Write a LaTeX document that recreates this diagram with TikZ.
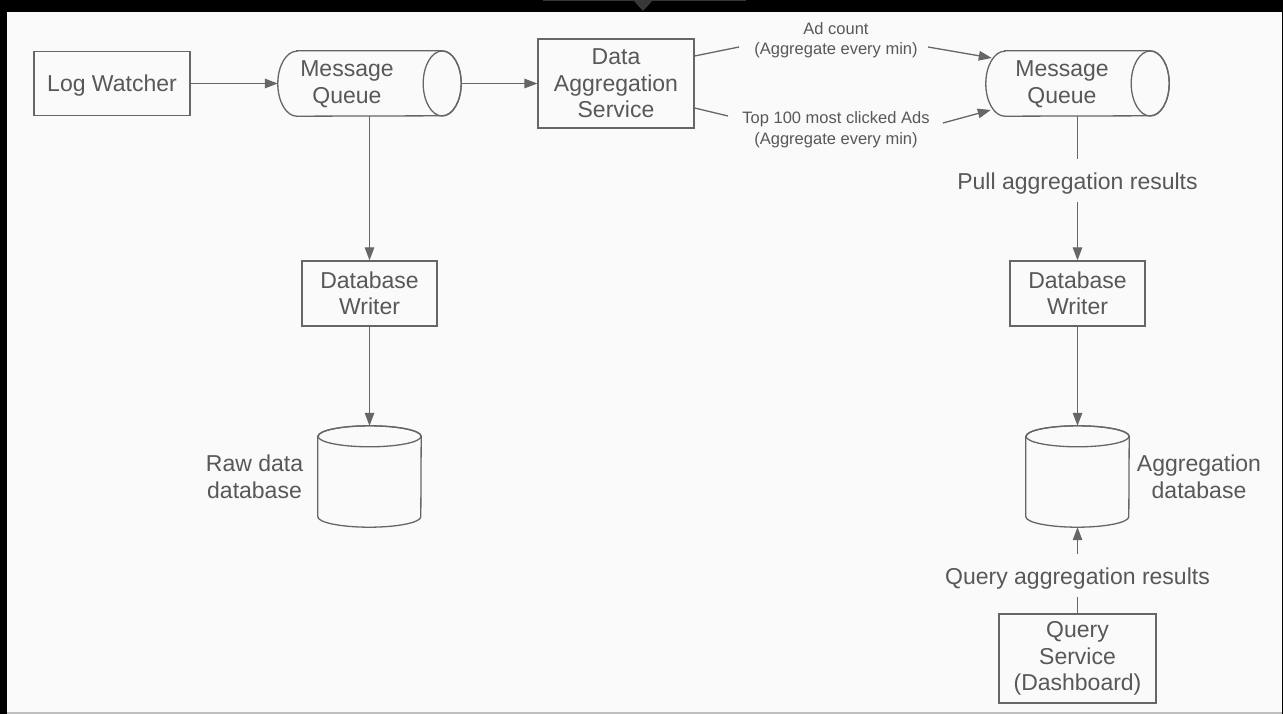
\documentclass[tikz,border=0pt]{standalone}
\usepackage{fontspec}
\setmainfont{Liberation Sans}
\usetikzlibrary{arrows.meta, positioning}
\definecolor{edge}{RGB}{102,102,102}
\definecolor{ink}{RGB}{88,88,88}
\definecolor{paper}{RGB}{250,250,250}
\newcommand{\bigtext}{\fontsize{23}{26.5}\selectfont}
\newcommand{\smalltext}{\fontsize{16.5}{20.5}\selectfont}
\tikzset{
  % Set arrowhead
  >={Triangle[length=13pt, width=9.5pt]},
  % Connectors
  wire/.style={draw=edge, line width=1.3pt},
  wire->/.style={wire, ->},
  % Service box
  box/.style={wire, fill=paper, inner sep=0pt, align=center, text=ink,
    font=\bigtext},
  % Room for a cylinder, which is drawn by hand
  slot/.style={inner sep=0pt},
  % Text
  lbl/.style={text=ink, font=\bigtext, align=center, inner sep=0pt},
  small/.style={lbl, font=\smalltext},
  % Label that breaks a connector
  cut/.style={lbl, text depth=0pt, inner sep=13pt},
}
% lying cylinder round a slot node
\newcommand{\queuecyl}[1]{%
  \path[wire, fill=paper] ([xshift=19pt]#1.north west)
    -- ([xshift=-19pt]#1.north east)
    arc[start angle=90, end angle=-90, x radius=19pt, y radius=32.5pt]
    -- ([xshift=19pt]#1.south west)
    arc[start angle=270, end angle=90, x radius=19pt, y radius=32.5pt]
    -- cycle;
  \draw[wire] ([xshift=-19pt]#1.east) ellipse [x radius=19pt, y radius=32.5pt];}
% standing cylinder round a slot node
\newcommand{\dbcyl}[1]{%
  \path[wire, fill=paper] ([yshift=-10.5pt]#1.north west)
    -- ([yshift=10.5pt]#1.south west)
    arc[start angle=180, end angle=360, x radius=51.5pt, y radius=10.5pt]
    -- ([yshift=-10.5pt]#1.north east)
    arc[start angle=0, end angle=180, x radius=51.5pt, y radius=10.5pt]
    -- cycle;
  \draw[wire] ([yshift=-10.5pt]#1.north) ellipse [x radius=51.5pt, y radius=10.5pt];}

\begin{document}
\begin{tikzpicture}[x=1pt, y=-1pt]
  \useasboundingbox (0,0) rectangle (1283,714);
  % screen frame
  \fill[black] (0,0) rectangle (1283,714);
  \fill[paper] (6.5,12) rectangle (1281.7,712);
  \fill[black!25] (6.5,712) rectangle (1281.7,714);
  \fill[black!78] (543,0) rectangle (746,1.5);
  \fill[black!78] (633,0) -- (653,0) -- (643,11) -- cycle;

  \node[box, text depth=0pt, minimum width=156pt, minimum height=64pt] (lw) at (112,83.5) {Log Watcher};
  \node[slot, minimum width=183pt, minimum height=65pt] (mq1) at (369.5,83.5) {};
  \node[box, minimum width=156pt, minimum height=89pt] (das) at (616,83.5) {Data\\Aggregation\\Service};
  \node[slot, minimum width=183pt, minimum height=65pt] (mq2) at (1077.5,83.5) {};

  \node[box, minimum width=135pt, minimum height=65pt] (dbw1) at (369.5,293.5) {Database\\Writer};
  \node[box, minimum width=135pt, minimum height=65pt] (dbw2) at (1077.5,293.5) {Database\\Writer};
  \node[slot, minimum width=103pt, minimum height=101pt] (rawdb) at (369.5,476.5) {};
  \node[slot, minimum width=103pt, minimum height=101pt] (aggdb) at (1077.5,476.5) {};
  \node[box, minimum width=157pt, minimum height=89pt] (qs) at (1077.5,658.5) {Query\\Service\\(Dashboard)};

  \queuecyl{mq1}
  \queuecyl{mq2}
  \dbcyl{rawdb}
  \dbcyl{aggdb}

  \node[lbl] (mq1txt) at (347,84.5) {Message\\Queue};
  \node[lbl] (mq2txt) at (1062,84.5) {Message\\Queue};
  \node[lbl] (rawtxt) at (254.5,477) {Raw data\\database};
  \node[lbl] (aggtxt) at (1199,477) {Aggregation\\database};
  \node[small] (adlbl) at (836,40) {Ad count\\(Aggregate every min)};
  \node[small] (toplbl) at (836,129.5) {Top 100 most clicked Ads\\(Aggregate every min)};
  \node[cut, anchor=base] (pull) at (1077.5,189.3) {Pull aggregation results};
  \node[cut, anchor=base] (query) at (1077.5,584) {Query aggregation results};

  % free ends beside the labels
  \coordinate (adin) at (739,47);
  \coordinate (adout) at (928,47);
  \coordinate (topin) at (728,116);
  \coordinate (topout) at (943,123);

  \draw[wire->] (lw.east) -- (mq1.west);
  \draw[wire->] (mq1.east) -- (das.west);
  \draw[wire->] (mq1.south) -- (dbw1.north);
  \draw[wire->] (dbw1.south) -- (rawdb.north);
  \draw[wire] ([yshift=27.5pt]das.east) -- (adin);
  \draw[wire->] (adout) -- ([xshift=6pt, yshift=25.5pt]mq2.west);
  \draw[wire] ([yshift=-24.5pt]das.east) -- (topin);
  \draw[wire->] (topout) -- ([xshift=5pt, yshift=-26.5pt]mq2.west);
  \draw[wire] (mq2.south) -- (pull);
  \draw[wire->] (pull) -- (dbw2.north);
  \draw[wire->] (dbw2.south) -- (aggdb.north);
  \draw[wire] (qs.north) -- (query);
  \draw[wire->] (query) -- (aggdb.south);
\end{tikzpicture}
\end{document}
